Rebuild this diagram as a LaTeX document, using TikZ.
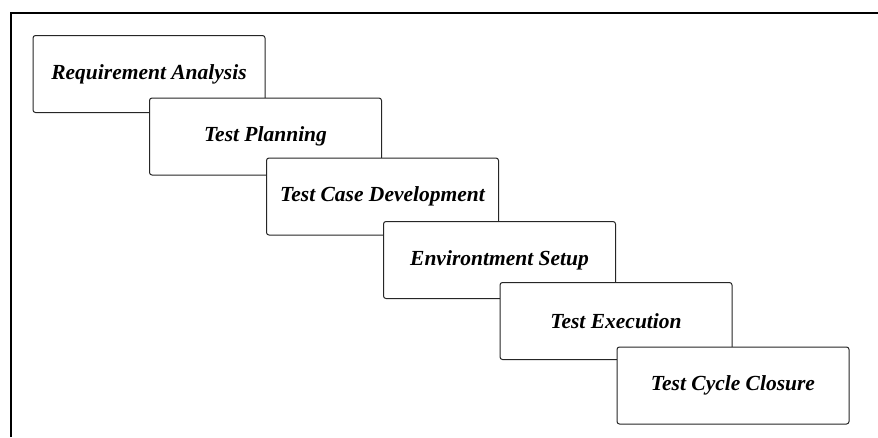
\documentclass[tikz,border=0pt]{standalone}
\usepackage{fontspec}
\setmainfont{Liberation Serif}
\begin{document}
\begin{tikzpicture}[x=1pt,y=-1pt,
  phase/.style={draw=black!85, line width=1pt, rounded corners=2.5pt, fill=white,
    minimum width=232pt, minimum height=77pt, inner sep=0pt,
    font=\fontsize{21.5}{25}\selectfont\bfseries\itshape},
  frameline/.style={line width=2pt, black}]
\useasboundingbox (0,0) rectangle (878,437);
% outer frame (left and top edges)
\draw[frameline] (11,437) -- (11,13) -- (878,13);
% cascading phases, each drawn over the previous one
\node[phase] (req)  at (149,74)    {Requirement Analysis};
\node[phase] (plan) at (265.5,136.5) {Test Planning};
\node[phase] (dev)  at (382.5,196.5) {Test Case Development};
\node[phase] (env)  at (499.5,260)   {Environtment Setup};
\node[phase] (exec) at (616,321)     {Test Execution};
\node[phase] (close) at (733,385.5)  {Test Cycle Closure};
\end{tikzpicture}
\end{document}
